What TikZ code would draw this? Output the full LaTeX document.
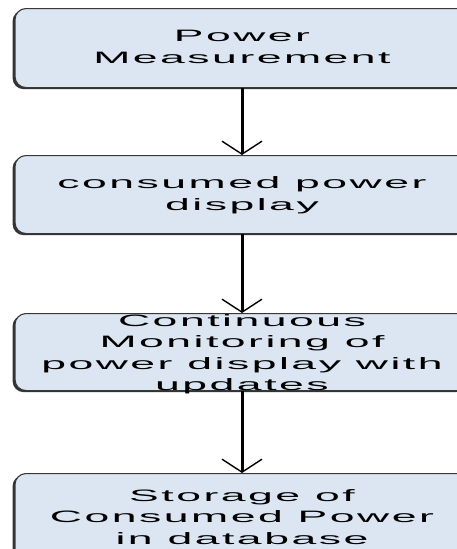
\documentclass[tikz,border=0pt]{standalone}
\usepackage{fontspec}
\usepackage{graphicx}
\setmainfont{Liberation Sans}[LetterSpace=5.6]
\usetikzlibrary{arrows.meta,shadows}
\definecolor{boxfill}{HTML}{DCE6F2}
\definecolor{boxline}{HTML}{383838}
% wide caption lettering
\newcommand\wideline[1]{\scalebox{2.7}[1]{#1}}
\tikzset{
  stepbox/.style={draw=boxline, line width=1.1pt, fill=boxfill,
    rounded corners=11pt, minimum width=454pt, minimum height=#1,
    inner sep=0pt, anchor=north,
    drop shadow={shadow xshift=-2.4pt, shadow yshift=-1.6pt,
      fill=black!80, opacity=1}},
  steptext/.style={align=center, inner sep=0pt,
    font=\fontsize{16.5}{21.5}\selectfont},
  flow/.style={line width=3pt,
    -{Straight Barb[length=13pt, width=40pt, line width=1.4pt]}}
}
\begin{document}
\begin{tikzpicture}[x=1pt, y=1pt]
  \useasboundingbox (0,0) rectangle (457,-549);
  \clip (0,0) rectangle (457,-549);
  \fill[white] (0,0) rectangle (457,-549);

  % process boxes
  \node[stepbox=79pt] (b1) at (242,-8) {};
  \node[stepbox=78pt] (b2) at (242,-155) {};
  \node[stepbox=77pt] (b3) at (242,-313) {};
  \node[stepbox=92pt] (b4) at (242,-473) {};

  % box captions
  \node[steptext] (t1) at (242,-47)
    {\wideline{Power}\\\wideline{Measurement}};
  \node[steptext] (t2) at (242,-195)
    {\wideline{consumed power}\\\wideline{display}};
  \node[steptext] (t3) at (242,-354)
    {\wideline{Continuous}\\\wideline{Monitoring of}\\\wideline{power display with}\\\wideline{updates}};
  \node[steptext] (t4) at (242,-517)
    {\wideline{Storage of}\\\wideline{Consumed Power}\\\wideline{in database}};

  % flow arrows
  \draw[flow] (b1.south) -- (b2.north);
  \draw[flow] (b2.south) -- (b3.north);
  \draw[flow] (b3.south) -- (b4.north);
\end{tikzpicture}
\end{document}
